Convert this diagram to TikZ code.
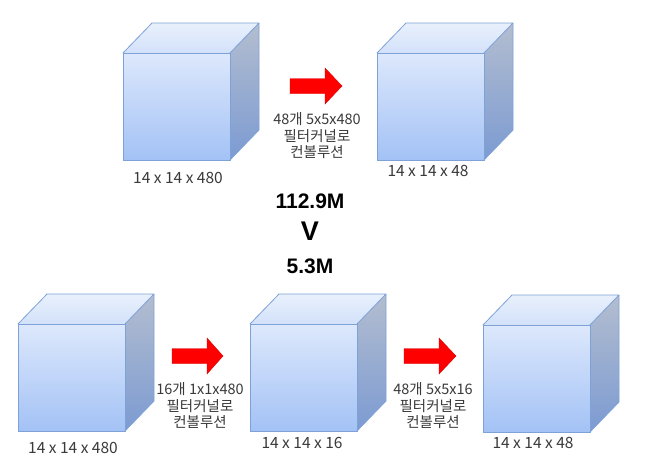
\documentclass[tikz,border=0pt]{standalone}
\usepackage{fontspec}
\newfontfamily\krfont{Noto Sans CJK KR}
\newfontfamily\boldsans{Liberation Sans}
\definecolor{frontT}{HTML}{DDE8FC}
\definecolor{frontB}{HTML}{A3C2F5}
\definecolor{topT}{HTML}{E9F0FC}
\definecolor{topB}{HTML}{D2E1FA}
\definecolor{sideT}{HTML}{B3BDCF}
\definecolor{sideB}{HTML}{7C9BD2}
\definecolor{edge}{HTML}{7EA2D8}
\definecolor{txt}{HTML}{3A3A3A}
\definecolor{arrowred}{HTML}{FF0000}
\tikzset{
  dimlabel/.style={font=\krfont\fontsize{15.5}{18}\selectfont, text=txt, inner sep=0pt},
  convtext/.style={font=\krfont\fontsize{14.5}{16.5}\selectfont, text=txt, align=center, inner sep=0pt},
  bigtext/.style={font=\boldsans\bfseries\fontsize{21}{24}\selectfont, text=black, inner sep=0pt},
  vtext/.style={font=\boldsans\bfseries\fontsize{27}{30}\selectfont, text=black, inner sep=0pt},
  redarrow/.style={fill=arrowred, draw=arrowred!85!black, line width=0.4pt},
  cubeedge/.style={draw=edge, line width=0.8pt, line join=round}
}
\newcommand{\mycube}[2]{%
  \shade[top color=frontT, bottom color=frontB] (#1,#2) rectangle ({#1+107},{#2+107});
  \shade[top color=topT, bottom color=topB] (#1,#2) -- ++(29,-30) -- ++(107,0) -- ++(-29,30) -- cycle;
  \shade[top color=sideT, bottom color=sideB] ({#1+107},#2) -- ++(29,-30) -- ++(0,107) -- ++(-29,30) -- cycle;
  \draw[cubeedge] (#1,#2) rectangle ({#1+107},{#2+107});
  \draw[cubeedge] (#1,#2) -- ++(29,-30) -- ++(107,0) -- ++(-29,30);
  \draw[cubeedge] ({#1+136},{#2-30}) -- ++(0,107) -- ++(-29,30);
}
\newcommand{\myarrow}[4]{% x0, x1, xh, yc
  \fill[redarrow] (#1,{#4-7.5}) -- (#3,{#4-7.5}) -- (#3,{#4-18}) -- (#2,#4) -- (#3,{#4+18}) -- (#3,{#4+7.5}) -- (#1,{#4+7.5}) -- cycle;
}
\begin{document}
\begin{tikzpicture}[x=1pt, y=-1pt]
  \useasboundingbox (0,0) rectangle (657,464);
  \fill[white] (0,0) rectangle (657,464);
  % top row
  \mycube{123}{53}
  \mycube{377}{53}
  \myarrow{290}{342}{325}{86}
  \node[dimlabel] (l1) at (178,178) {14 x 14 x 480};
  \node[dimlabel] (l2) at (428,171) {14 x 14 x 48};
  \node[convtext] (c1) at (317,136) {48개 5x5x480\\필터커널로\\컨볼루션};
  % middle
  \node[bigtext] (m1) at (310,201) {112.9M};
  \node[vtext] (m2) at (310,231) {V};
  \node[bigtext] (m3) at (310,266) {5.3M};
  % bottom row
  \mycube{18}{324}
  \mycube{250}{324}
  \mycube{483}{325}
  \myarrow{172}{223}{207}{356}
  \myarrow{404}{456}{439}{356}
  \node[dimlabel] (l3) at (73,448) {14 x 14 x 480};
  \node[dimlabel] (l4) at (302,443) {14 x 14 x 16};
  \node[dimlabel] (l5) at (533,443) {14 x 14 x 48};
  \node[convtext] (c2) at (200,406) {16개 1x1x480\\필터커널로\\컨볼루션};
  \node[convtext] (c3) at (433,406) {48개 5x5x16\\필터커널로\\컨볼루션};
\end{tikzpicture}
\end{document}
